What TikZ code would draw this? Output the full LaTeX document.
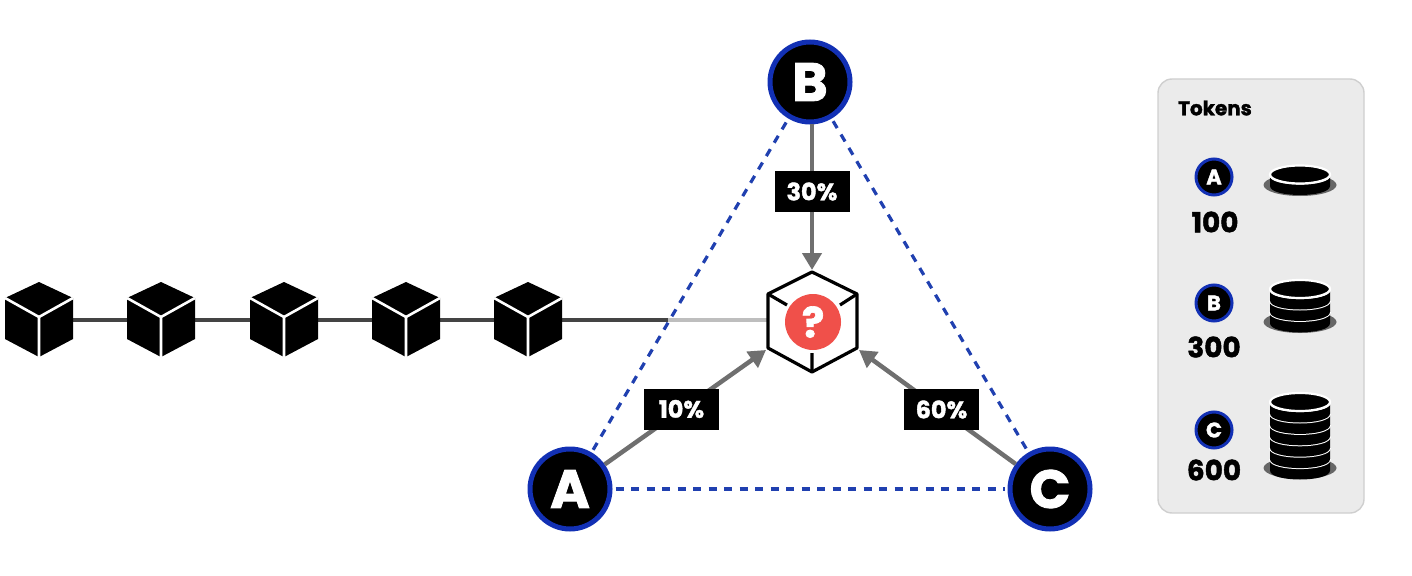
\documentclass[tikz,border=0pt]{standalone}
\usepackage{fontspec}
\setmainfont{Poppins}[BoldFeatures={FakeBold=1.6}]
\usetikzlibrary{arrows.meta}
\definecolor{ringblue}{HTML}{1230B4}
\definecolor{dashblue}{HTML}{2040B0}
\definecolor{arrowgray}{HTML}{6F6F6F}
\definecolor{chaingray}{HTML}{444444}
\definecolor{fadegray}{HTML}{BEBEBE}
\definecolor{panelfill}{HTML}{EBEBEB}
\definecolor{panelline}{HTML}{CFCFCF}
\definecolor{qred}{HTML}{F0504A}
\definecolor{shadowgray}{HTML}{666666}
\tikzset{
  x=1bp,y=-1bp,
  bigpeer/.style={circle,fill=black,draw=ringblue,line width=5bp,minimum size=80bp,inner sep=0pt,text=white,font=\fontsize{54}{54}\bfseries\selectfont},
  smallpeer/.style={circle,fill=black,draw=ringblue,line width=3bp,minimum size=36bp,inner sep=0pt,text=white,font=\fontsize{21}{21}\bfseries\selectfont},
  dashlink/.style={draw=dashblue,line width=3.2bp,dash pattern=on 8bp off 7.5bp},
  votearrow/.style={draw=arrowgray,line width=4.5bp,-{Triangle[length=17bp,width=19bp]}},
  pctbox/.style={fill=black,text=white,minimum width=75bp,minimum height=41bp,inner sep=0pt,font=\fontsize{24}{24}\bfseries\selectfont},
  amount/.style={text=black,inner sep=0pt,font=\fontsize{28}{28}\bfseries\selectfont},
  cubenode/.style={minimum width=68bp,minimum height=74bp,inner sep=0pt},
}
\newcommand{\blockcube}[1]{%
  \fill[black] (#1-0,282) -- (#1+34,298) -- (#1+34,339) -- (#1,357) -- (#1-34,339) -- (#1-34,298) -- cycle;
  \draw[white,line width=2.6bp] (#1-34,298) -- (#1,317) -- (#1+34,298) (#1,317) -- (#1,357);
}
\newcommand{\coinstack}[4]{% cx, top y, count, shadow y
  \fill[shadowgray] (#1,#4) ellipse [x radius=36.5,y radius=11];
  \foreach \i in {#3,...,1}{
    \pgfmathsetmacro{\yy}{#2+(\i-1)*11.4}
    \pgfmathsetmacro{\yb}{\yy+11.5}
    \fill[black] (#1-30,\yy) -- (#1-30,\yb) .. controls (#1-30,\yb+12) and (#1+30,\yb+12) .. (#1+30,\yb) -- (#1+30,\yy) -- cycle;
    \draw[white,line width=2.2bp] (#1-30,\yy) .. controls (#1-30,\yy+12) and (#1+30,\yy+12) .. (#1+30,\yy);
  }
  \fill[black] (#1,#2) ellipse [x radius=30,y radius=9];
  \draw[white,line width=2.2bp] (#1,#2) ellipse [x radius=30,y radius=9];
}
\begin{document}
\begin{tikzpicture}
\useasboundingbox (0,0) rectangle (1412,576);
% nodes
\node[bigpeer] (A) at (570,489) {A};
\node[bigpeer] (B) at (810,82) {B};
\node[bigpeer] (C) at (1050,489) {C};
\node[cubenode] (c1) at (39,320) {};
\node[cubenode] (c2) at (161,320) {};
\node[cubenode] (c3) at (284,320) {};
\node[cubenode] (c4) at (406,320) {};
\node[cubenode] (c5) at (528,320) {};
\coordinate (fade) at (668,320);
\coordinate (hexL) at (768,320);
\coordinate (hexT) at (812,270);
\coordinate (hexBL) at (766,350);
\coordinate (hexBR) at (859,350);
% chain
\draw[chaingray,line width=3.4bp] (c1.east) -- (c2.west) (c2.east) -- (c3.west) (c3.east) -- (c4.west) (c4.east) -- (c5.west) (c5.east) -- (fade);
\draw[fadegray,line width=3.4bp] (fade) -- (hexL);
\foreach \cx in {39,161,284,406,528}{\blockcube{\cx}}
% triangle
\draw[dashlink,shorten >=3bp,shorten <=3bp] (A) -- (B);
\draw[dashlink,shorten >=3bp,shorten <=3bp] (B) -- (C);
\draw[dashlink,shorten >=3bp,shorten <=3bp] (A) -- (C);
% arrows
\draw[votearrow] (hexT |- B.south) -- (hexT);
\draw[votearrow] (A) -- (hexBL);
\draw[votearrow] (C) -- (hexBR);
\node[pctbox] (p30) at (812,191.5) {30\%};
\node[pctbox] (p10) at (681.5,409) {10\%};
\node[pctbox] (p60) at (941.5,409.5) {60\%};
% centre block
\draw[black,line width=3.2bp,line join=round,fill=white] (812,272) -- (857,294) -- (857,348) -- (812,372) -- (768,348) -- (768,294) -- cycle;
\draw[black,line width=3.2bp] (768,294) -- (787,305) (857,294) -- (840,305) (812,372) -- (812,353);
\node[circle,fill=qred,minimum size=56bp,inner sep=0pt,text=white,font=\fontsize{42}{42}\bfseries\selectfont] (q) at (813,322) {?};
% panel
\draw[panelline,fill=panelfill,line width=1.4bp,rounded corners=14bp] (1158,79) rectangle (1364,513);
\node[anchor=west,inner sep=0pt,font=\fontsize{20}{20}\bfseries\selectfont] (tok) at (1178,108) {Tokens};
\node[smallpeer] (sa) at (1214,177) {A};
\node[smallpeer] (sb) at (1214,303) {B};
\node[smallpeer] (sc) at (1214,430) {C};
\node[amount] (n1) at (1215,222) {100};
\node[amount] (n3) at (1214,347) {300};
\node[amount] (n6) at (1214,470) {600};
\coinstack{1300}{174.5}{1}{185}
\coinstack{1300}{289}{3}{322}
\coinstack{1300}{402}{6}{468}
\end{tikzpicture}
\end{document}
